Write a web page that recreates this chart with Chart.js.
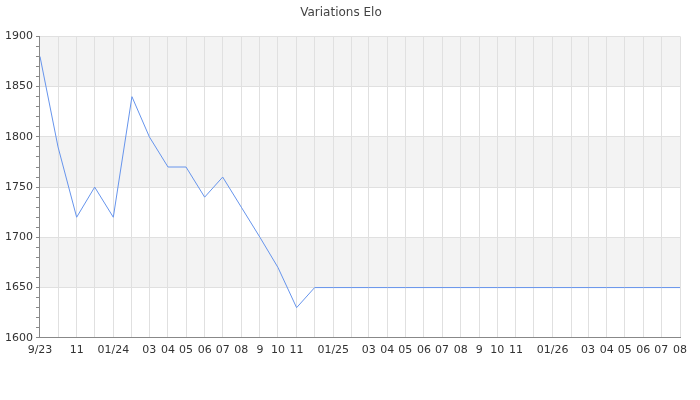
<!DOCTYPE html>
<html>
<head>
<meta charset="utf-8">
<script src="https://cdn.jsdelivr.net/npm/chart.js@4"></script>
<style>
html,body{margin:0;padding:0;background:#fff;}
#wrap{width:700px;height:400px;}
</style>
</head>
<body>
<div id="wrap"><canvas id="c" width="700" height="400"></canvas></div>
<script>
// Months (YYYY-MM) of each data point
const months = [
  '2023-09','2023-10','2023-11','2023-12',
  '2024-01','2024-02','2024-03','2024-04','2024-05','2024-06','2024-07','2024-08','2024-09','2024-10','2024-11','2024-12',
  '2025-01','2025-02','2025-03','2025-04','2025-05','2025-06','2025-07','2025-08','2025-09','2025-10','2025-11','2025-12',
  '2026-01','2026-02','2026-03','2026-04','2026-05','2026-06','2026-07','2026-08'
];
// Elo value at each month
const elo = [
  1880,1790,1720,1750,
  1720,1840,1800,1770,1770,1740,1760,1730,1700,1670,1630,1650,
  1650,1650,1650,1650,1650,1650,1650,1650,1650,1650,1650,1650,
  1650,1650,1650,1650,1650,1650,1650,1650
];
// Tick label for each month gridline ('' = no label)
const tickLabels = [
  '9/23','','11','',
  '01/24','','03','04','05','06','07','08','9','10','11','',
  '01/25','','03','04','05','06','07','08','9','10','11','',
  '01/26','','03','04','05','06','07','08'
];
const title = 'Variations Elo';
const yMin = 1600, yMax = 1900;

const toTs = m => { const [y, mo] = m.split('-').map(Number); return Date.UTC(y, mo - 1, 1); };
const xs = months.map(toTs);
const points = xs.map((x, i) => ({ x: x, y: elo[i] }));

const bandPlugin = {
  id: 'bands',
  beforeDraw(chart) {
    const { ctx, chartArea: a, scales: { y } } = chart;
    ctx.save();
    ctx.fillStyle = '#f3f3f3';
    for (let v = yMin + 50; v < yMax; v += 100) {
      const top = y.getPixelForValue(v + 50), bot = y.getPixelForValue(v);
      ctx.fillRect(a.left, top, a.right - a.left, bot - top);
    }
    ctx.restore();
  }
};

new Chart(document.getElementById('c'), {
  type: 'line',
  data: {
    datasets: [{
      data: points,
      borderColor: '#6694ec',
      borderWidth: 1,
      pointRadius: 0,
      tension: 0,
      fill: false
    }]
  },
  options: {
    responsive: false,
    animation: false,
    layout: { padding: { left: 2, right: 20, top: 0, bottom: 37 } },
    plugins: {
      legend: { display: false },
      tooltip: { enabled: false },
      title: {
        display: true,
        text: title,
        color: '#444',
        font: { family: 'DejaVu Sans', size: 12, weight: 'normal' },
        padding: { top: 6, bottom: 16 }
      }
    },
    scales: {
      x: {
        type: 'linear',
        min: xs[0],
        max: xs[xs.length - 1],
        afterBuildTicks(scale) { scale.ticks = xs.map(v => ({ value: v })); },
        ticks: {
          autoSkip: false,
          maxRotation: 0,
          minRotation: 0,
          padding: 6,
          color: '#333',
          font: { family: 'DejaVu Sans', size: 11 },
          callback: (v, i) => tickLabels[i]
        },
        grid: { color: '#e0e0e0', drawTicks: false },
        border: { color: '#888' }
      },
      y: {
        min: yMin,
        max: yMax,
        ticks: {
          stepSize: 10,
          autoSkip: false,
          padding: 3,
          color: '#333',
          font: { family: 'DejaVu Sans', size: 11 },
          callback: v => (v % 50 === 0 ? String(v) : '')
        },
        grid: {
          color: c => (c.tick && c.tick.value % 50 === 0 ? '#e0e0e0' : 'rgba(0,0,0,0)'),
          tickColor: '#888',
          tickLength: 4
        },
        border: { color: '#888' }
      }
    }
  },
  plugins: [bandPlugin]
});
</script>
</body>
</html>
